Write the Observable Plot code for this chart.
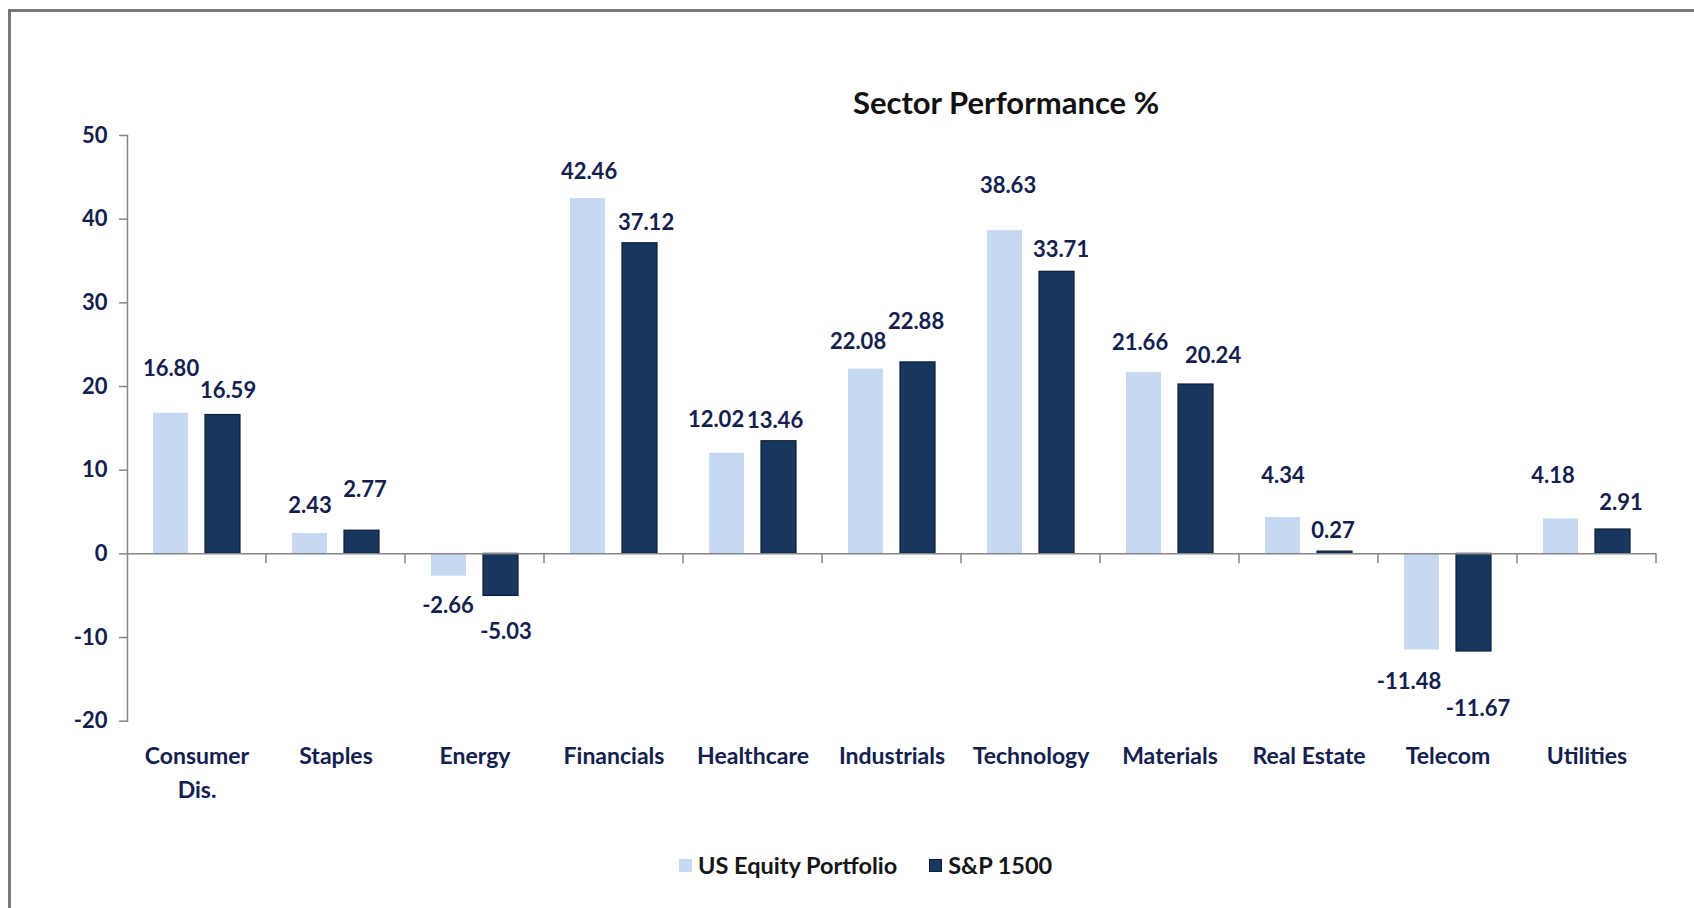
<!DOCTYPE html>
<html>
<head>
<meta charset="utf-8">
<script src="https://cdn.jsdelivr.net/npm/d3@7"></script>
<script src="https://cdn.jsdelivr.net/npm/@observablehq/plot@0.6"></script>
<style>
  html, body { margin: 0; padding: 0; background: #fff; overflow: hidden; }
  body { width: 1694px; height: 908px; position: relative; font-family: Lato, "Open Sans", sans-serif; font-weight: 700; }
  #border { position: absolute; left: 8px; top: 9px; width: 1700px; height: 910px; border-top: 3px solid #787878; border-left: 3px solid #787878; pointer-events: none; }
  #title { position: relative; height: 120px; box-sizing: border-box; padding-top: 85px; padding-left: 318px; text-align: center; font-size: 31px; line-height: 34px; color: #111; }
  #chart { position: relative; height: 700px; }
  #legend { position: relative; display: flex; align-items: center; padding-top: 33px; padding-left: 679px; font-size: 23.5px; line-height: 24px; color: #151515; }
  #legend .sw { display: inline-block; width: 13px; height: 13px; margin-right: 6px; box-sizing: border-box; }
  #legend .item { display: flex; align-items: center; margin-right: 32px; }
</style>
</head>
<body>
<div id="border"></div>
<div id="title">Sector Performance %</div>
<div id="chart"></div>
<div id="legend"></div>
<script>
// ---- data ----
const sectors = ["Consumer Dis.", "Staples", "Energy", "Financials", "Healthcare", "Industrials", "Technology", "Materials", "Real Estate", "Telecom", "Utilities"];
const seriesNames = ["US Equity Portfolio", "S&P 1500"];
const usEquity = [16.80, 2.43, -2.66, 42.46, 12.02, 22.08, 38.63, 21.66, 4.34, -11.48, 4.18];
const sp1500 = [16.59, 2.77, -5.03, 37.12, 13.46, 22.88, 33.71, 20.24, 0.27, -11.67, 2.91];
const yTicks = [-20, -10, 0, 10, 20, 30, 40, 50];

// ---- layout / style ----
const W = 1694, H = 700, mT = 15, mB = 99.3, mL = 126, mR = 38;
const lightBlue = "#C6D9F1", darkBlue = "#17375E", darkEdge = "#0c1d36";
const axisGray = "#868686", textColor = "#13204D";
// label placement (px): distance of each value label's centre from the bar end, and sideways nudge
const usLabelGap = [44, 28, 30, 27, 33, 27, 45, 30, 42, 32, 43];
const spLabelGap = [24, 41, 36, 20, 20, 40, 22, 29, 21, 57, 27];
const usLabelNudge = [0, 0, -1, 1, -11, -8, 3, -4, 0, -13, -8];
const spLabelNudge = [5, 3, 5, 6, -4, -2, 4, 17, -2, 4, 8];

const rows = sectors.flatMap((s, i) => [
  {sector: s, series: seriesNames[0], value: usEquity[i], gap: usLabelGap[i], nudge: usLabelNudge[i]},
  {sector: s, series: seriesNames[1], value: sp1500[i], gap: spLabelGap[i], nudge: spLabelNudge[i]}
]);

const yScale = Plot.scale({y: {domain: [-20, 50], range: [H - mB, mT]}});
const labelY = d => yScale.invert(yScale.apply(d.value) + (d.value >= 0 ? -d.gap : d.gap));

const boundaryTicks = (index, scales, values, dims) => {
  const x = dims.width - dims.marginRight;
  const y0 = scales.y(0);
  return d3.create("svg:line")
    .attr("x1", x).attr("x2", x).attr("y1", y0).attr("y2", y0 + 10)
    .attr("stroke", axisGray).attr("stroke-width", 1.5).node();
};

const chart = Plot.plot({
  width: W, height: H,
  marginTop: mT, marginBottom: mB, marginLeft: mL, marginRight: mR,
  style: {fontFamily: "Lato, 'Open Sans', sans-serif", fontWeight: "bold", fontSize: "22px", color: textColor, background: "transparent", overflow: "visible"},
  fx: {domain: sectors, padding: 0},
  x: {domain: seriesNames, paddingInner: 0.336, paddingOuter: 0.497, axis: null},
  y: {domain: [-20, 50]},
  marks: [
    Plot.barY(rows.filter(d => d.series === seriesNames[0]), {fx: "sector", x: "series", y: "value", fill: lightBlue}),
    Plot.barY(rows.filter(d => d.series === seriesNames[1]), {fx: "sector", x: "series", y: "value", fill: darkBlue, stroke: darkEdge, strokeWidth: 1.2}),
    Plot.ruleY([0], {stroke: axisGray, strokeWidth: 1.5}),
    boundaryTicks,
    Plot.frame({anchor: "left", facetAnchor: "left", stroke: axisGray, strokeWidth: 1.5}),
    Plot.axisY({ticks: yTicks, tickSize: 8, tickPadding: 12, fontSize: 22, stroke: axisGray, strokeWidth: 1.5, label: null, tickFormat: d => `${d}`}),
    Plot.axisFx({anchor: "bottom", tickSize: 0, tickPadding: 18, fontSize: 23, lineHeight: 1.5, label: null,
      tickFormat: d => d.replace("Consumer ", "Consumer\n")}),
    ...rows.map(d => Plot.text([d], {fx: "sector", x: "series", y: labelY, text: r => r.value.toFixed(2), dx: d.nudge, fontSize: 22, fill: textColor}))
  ]
});
document.getElementById("chart").appendChild(chart);

// legend
const legend = d3.select("#legend");
seriesNames.forEach((name, i) => {
  const item = legend.append("span").attr("class", "item");
  item.append("span").attr("class", "sw")
    .style("background", i === 0 ? lightBlue : darkBlue)
    .style("border", i === 0 ? "none" : `1px solid ${darkEdge}`);
  item.append("span").text(name);
});
</script>
</body>
</html>
